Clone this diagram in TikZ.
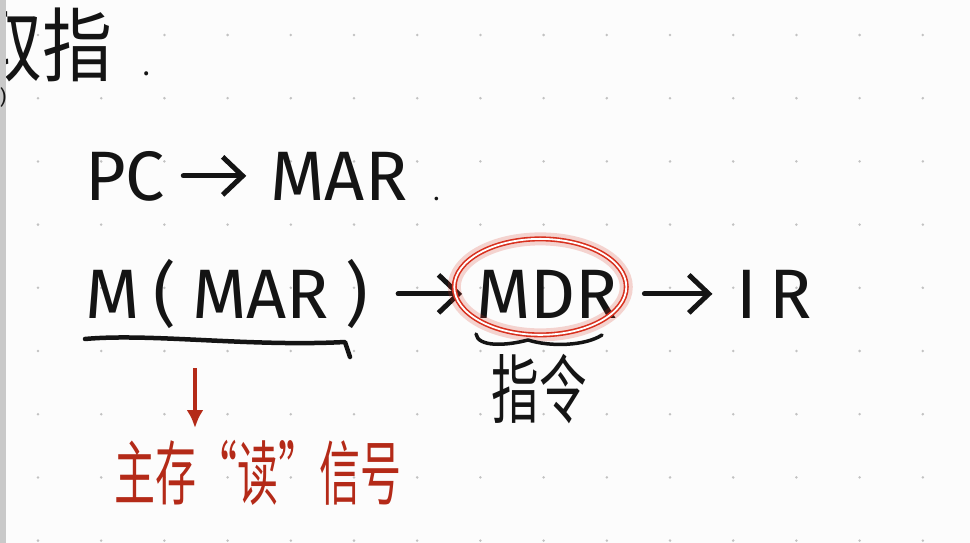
\documentclass[tikz,border=0pt]{standalone}
\usepackage{fontspec}
\setmainfont{Fira Sans}
\newfontfamily\cjk{Noto Sans CJK SC}
\usetikzlibrary{arrows.meta,positioning,calc}
\definecolor{inkblack}{HTML}{141414}
\definecolor{inkred}{HTML}{B42A18}
\definecolor{ringred}{HTML}{D8301E}
\definecolor{paper}{HTML}{FCFCFC}
\definecolor{dotgray}{HTML}{C2C2C2}
\definecolor{bargray}{HTML}{C9C9C9}
\tikzset{
  reg/.style={
    inner sep=0pt,
    text=inkblack,
    font=\fontsize{70}{74}\selectfont
  },
  hanzi/.style={
    inner sep=0pt,
    text=inkblack,
    font=\cjk\fontsize{50}{56}\selectfont
  },
  redtext/.style={
    inner sep=0pt,
    text=inkred,
    font=\cjk\fontsize{50}{56}\selectfont
  },
  inkarrow/.style={
    -{Straight Barb[length=20pt,width=38pt]},
    line width=5pt,
    draw=inkblack,
    line cap=round
  },
  inkline/.style={
    line width=4.5pt,
    draw=inkblack,
    line cap=round,
    line join=round
  },
  redarrow/.style={
    -{Latex[length=18pt,width=17pt]},
    line width=4pt,
    draw=inkred
  }
}
\begin{document}
\begin{tikzpicture}[x=1pt,y=-1pt]
\useasboundingbox (0,0) rectangle (970,543);
\fill[paper] (0,0) rectangle (970,543);
\clip (0,0) rectangle (970,543);
% dotted page
\foreach \i in {0,...,14}
  \foreach \j in {0,...,8}
    \fill[dotgray] (38+63.2*\i,35+63.2*\j) circle (1.4);

% heading
\node[hanzi, anchor=base west, font=\cjk\fontsize{70}{74}\selectfont] (title) at (-28,76)
  {\scalebox{1}[1.15]{取指}\hspace{30pt}{\fontsize{30}{30}\selectfont .}};

% step 1
\node[reg, anchor=base west] (pc) at (85,200) {PC};
\node[reg, base right=105pt of pc] (mar) {MAR{\fontsize{26}{26}\selectfont\hspace{26pt}.}};
\draw[inkarrow, shorten <=18pt, shorten >=24pt] (pc) -- (mar.west |- pc);

% step 2
\node[reg, anchor=base west] (mmar) at (85,318) {M\kern14pt(\kern16pt MAR\kern16pt)};
\node[reg, base right=108pt of mmar] (mdr) {MDR};
\node[reg, base right=118pt of mdr] (ir) {I\kern12pt R};
\draw[inkarrow, shorten <=30pt, shorten >=14pt] (mmar.east |- mdr.west) -- (mdr.west);
\draw[inkarrow, shorten <=26pt, shorten >=24pt] (mdr.east) -- (ir.west |- mdr.east);

% red ring round MDR
\coordinate (ringc) at ($(mdr.center)+(-7,-7)$);
\draw[ringred, opacity=0.2, line width=13pt] (ringc) ellipse (86 and 48);
\draw[ringred, line width=5pt] (ringc) ellipse (86 and 48);
\draw[white, line width=1.8pt] (ringc) ellipse (86 and 48);

% marks under the terms
\draw[inkline] (85,339) .. controls (150,333) and (250,347) .. (345,342) -- (350,357);
\draw[inkline, line width=3.5pt] (476,334) .. controls (478,347) and (505,346) .. (528,340) .. controls (550,347) and (585,346) .. (602,335);
\node[hanzi, below=36pt of mdr, xshift=-8pt] (instr) {\scalebox{0.95}[1.5]{指令}};

% read signal
\coordinate (ul) at (195,368);
\node[redtext, anchor=north west] (sig) at (114,440) {\scalebox{0.82}[1.4]{主存“读”信号}};
\draw[redarrow, shorten >=12pt] (ul) -- (ul |- sig.north);

% page edge
\fill[bargray] (0,0) rectangle (6,543);
\node[inner sep=0pt, text=inkblack, font=\fontsize{20}{20}\selectfont] (brk) at (3,97) {)};
\end{tikzpicture}
\end{document}
